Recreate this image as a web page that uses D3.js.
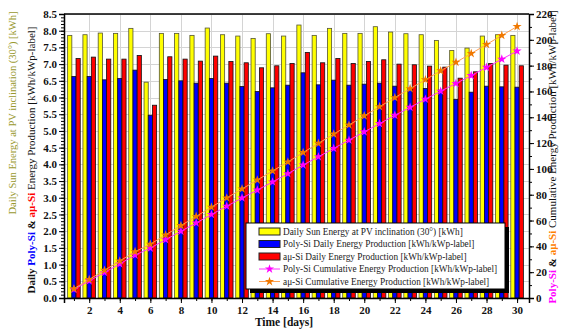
<!DOCTYPE html>
<html><head><meta charset="utf-8">
<script src="https://cdn.jsdelivr.net/npm/d3@7"></script>
<style>
html,body{margin:0;padding:0;background:#fff;}
svg{display:block;}
svg text{font-family:'Liberation Serif','Times New Roman','DejaVu Serif',serif !important;}
</style>
</head><body>
<script>
const days = d3.range(1, 31);
const sunEnergy = [7.86,7.88,7.93,7.92,8.07,6.46,7.92,7.92,7.86,8.08,7.88,7.84,7.77,7.91,7.84,8.17,7.86,8.07,7.92,7.92,8.12,7.96,7.91,7.88,7.71,7.41,7.48,7.84,7.88,7.86];
const polyDaily = [6.63,6.63,6.53,6.57,6.82,5.47,6.54,6.50,6.43,6.57,6.43,6.33,6.18,6.29,6.37,6.74,6.38,6.52,6.37,6.40,6.43,6.34,6.27,6.27,6.22,5.94,6.16,6.34,6.32,6.31];
const auDaily = [7.17,7.21,7.15,7.15,7.26,5.77,7.22,7.15,7.09,7.24,7.08,7.04,6.89,6.95,7.02,7.35,7.04,7.17,7.02,7.08,7.13,7.00,6.98,6.94,6.91,6.58,6.77,7.02,6.97,6.95];
const polyCum = [6.6,13.3,19.8,26.4,33.2,38.7,45.2,51.7,58.1,64.7,71.1,77.5,83.6,89.9,96.3,103.0,109.4,115.9,122.3,128.7,135.1,141.5,147.7,154.0,160.2,166.2,172.3,178.7,185.0,191.3];
const auCum = [7.2,14.4,21.5,28.7,35.9,41.7,48.9,56.1,63.2,70.4,77.5,84.5,91.4,98.4,105.4,112.7,119.8,127.0,134.0,141.1,148.2,155.2,162.2,169.1,176.0,182.6,189.4,196.4,203.4,210.3];
const xTicks = [2,4,6,8,10,12,14,16,18,20,22,24,26,28,30];
const leftTicks = d3.range(0, 8.51, 0.5);
const rightTicks = d3.range(0, 221, 20);
const legendLabels = [
  "Daily Sun Energy at PV inclination (30\u00B0) [kWh]",
  "Poly-Si Daily Energy Production [kWh/kWp-label]",
  "a\u03BC-Si Daily Energy Production [kWh/kWp-label]",
  "Poly-Si Cumulative Energy Production [kWh/kWp-label]",
  "a\u03BC-Si Cumulative Energy Production [kWh/kWp-label]"
];

const FONT = "'Liberation Serif','Times New Roman','DejaVu Serif',serif";
const W = 563, H = 329;
const L = 64, R = 529, T = 14, B = 298;
const svg = d3.select("body").append("svg").attr("width", W).attr("height", H)
  .style("font-family", FONT);

const x = d3.scaleLinear().domain([0.35, 30.78]).range([L, R]);
const yL = d3.scaleLinear().domain([0, 8.5]).range([B, T]);
const yR = d3.scaleLinear().domain([0, 220]).range([B, T]);

// grid
const grid = svg.append("g").attr("stroke", "#d4d4d4").attr("stroke-width", 1);
leftTicks.forEach(v => grid.append("line").attr("x1", L).attr("x2", R).attr("y1", Math.round(yL(v))+0.5).attr("y2", Math.round(yL(v))+0.5));
xTicks.forEach(v => grid.append("line").attr("y1", T).attr("y2", B).attr("x1", Math.round(x(v))+0.5).attr("x2", Math.round(x(v))+0.5));

// bars
const bw = 4.2;
const series = [
  {vals: sunEnergy, fill: "#ffff00", stroke: "#555533", off: -1.5},
  {vals: polyDaily, fill: "#0000ff", stroke: "#111111", off: -0.5},
  {vals: auDaily, fill: "#ff0000", stroke: "#111111", off: 0.5}
];
series.forEach(s => {
  svg.append("g").selectAll("rect").data(days).join("rect")
    .attr("x", d => x(d) + s.off * bw)
    .attr("y", (d, i) => yL(s.vals[i]))
    .attr("width", bw)
    .attr("height", (d, i) => B - yL(s.vals[i]))
    .attr("fill", s.fill).attr("stroke", s.stroke).attr("stroke-width", 0.8);
});

// cumulative lines
const star = d3.symbol().type(d3.symbolStar).size(26);
function cumLine(vals, lineCol, markCol) {
  const line = d3.line().x((d, i) => x(days[i])).y(d => yR(d));
  svg.append("path").datum(vals).attr("d", line).attr("fill", "none").attr("stroke", lineCol).attr("stroke-width", 1);
  svg.append("g").selectAll("path").data(vals).join("path")
    .attr("d", star).attr("transform", (d, i) => `translate(${x(days[i])},${yR(d)})`)
    .attr("fill", markCol);
}
cumLine(polyCum, "#ff33ff", "#ff00ff");
cumLine(auCum, "#ffa050", "#f07800");

// axes
function styleAxis(g) {
  g.attr("font-family", null).attr("font-size", null);
  g.selectAll("text").style("font-family", FONT).attr("font-size", 11).attr("font-weight", "bold").attr("fill", "#111");
  g.select(".domain").attr("stroke-width", 1.5);
}
const axL = d3.axisLeft(yL).tickValues(leftTicks).tickFormat(d3.format(".1f")).tickSize(5).tickPadding(2);
const gL = svg.append("g").attr("transform", `translate(${L},0)`).call(axL);
const axLm = d3.axisLeft(yL).tickValues(d3.range(0, 8.51, 0.1)).tickFormat("").tickSize(3);
svg.append("g").attr("transform", `translate(${L},0)`).call(axLm).select(".domain").remove();
const axR = d3.axisRight(yR).tickValues(rightTicks).tickFormat(d3.format("d")).tickSize(5).tickPadding(2);
const gR = svg.append("g").attr("transform", `translate(${R},0)`).call(axR);
const axRm = d3.axisRight(yR).tickValues(d3.range(0, 221, 10)).tickFormat("").tickSize(3);
svg.append("g").attr("transform", `translate(${R},0)`).call(axRm).select(".domain").remove();
const axB = d3.axisBottom(x).tickValues(xTicks).tickFormat(d3.format("d")).tickSize(5).tickPadding(3);
const gB = svg.append("g").attr("transform", `translate(0,${B})`).call(axB);
const axBm = d3.axisBottom(x).tickValues(days).tickFormat("").tickSize(3);
svg.append("g").attr("transform", `translate(0,${B})`).call(axBm).select(".domain").remove();
svg.append("line").attr("x1", L).attr("x2", R).attr("y1", T).attr("y2", T).attr("stroke", "#000").attr("stroke-width", 1.5);
[gL, gR, gB].forEach(styleAxis);

// axis titles
svg.append("text").attr("x", 284).attr("y", 326).attr("text-anchor", "middle").style("font-family", FONT)
  .attr("font-size", 11.5).attr("font-weight", "bold").attr("fill", "#111").text("Time [days]");

svg.append("text").attr("transform", "translate(16,113) rotate(-90)").attr("text-anchor", "middle").style("font-family", FONT)
  .attr("font-size", 10.5).attr("fill", "#99992e").text("Daily Sun Energy at PV inclination (30\u00B0) [kWh]");

const t2 = svg.append("text").attr("transform", "translate(35,160) rotate(-90)").attr("text-anchor", "middle").style("font-family", FONT)
  .attr("font-size", 11).attr("fill", "#111");
t2.append("tspan").attr("font-weight", "bold").text("Daily ");
t2.append("tspan").attr("font-weight", "bold").attr("fill", "#0000ff").text("Poly-Si");
t2.append("tspan").attr("font-weight", "bold").text(" & ");
t2.append("tspan").attr("font-weight", "bold").attr("fill", "#ff0000").text("a\u03BC-Si");
t2.append("tspan").text(" Energy Production [kWh/kWp-label]");

const t3 = svg.append("text").attr("transform", "translate(556,157) rotate(-90)").attr("text-anchor", "middle").style("font-family", FONT)
  .attr("font-size", 11).attr("fill", "#111");
t3.append("tspan").attr("font-weight", "bold").attr("fill", "#ff00ff").text("Poly-Si");
t3.append("tspan").attr("font-weight", "bold").text(" & ");
t3.append("tspan").attr("font-weight", "bold").attr("fill", "#ff8000").text("a\u03BC-Si");
t3.append("tspan").text(" Cumulative Energy Production [kWh/kWp-label]");

// legend
const lx = 246, ly = 223, lw = 259, lh = 66;
svg.append("rect").attr("x", lx + 4).attr("y", ly + 4).attr("width", lw).attr("height", lh).attr("fill", "#000");
svg.append("rect").attr("x", lx).attr("y", ly).attr("width", lw).attr("height", lh).attr("fill", "#fff").attr("stroke", "#000").attr("stroke-width", 1);
const lg = svg.append("g");
legendLabels.forEach((lab, i) => {
  const cy = ly + 8.5 + i * 12.5;
  if (i < 3) {
    lg.append("rect").attr("x", lx + 13).attr("y", cy - 3.5).attr("width", 21).attr("height", 7)
      .attr("fill", series[i].fill).attr("stroke", "#222").attr("stroke-width", 1);
  } else {
    const lc = i === 3 ? "#ff33ff" : "#ffa050";
    const mc = i === 3 ? "#ff00ff" : "#f07800";
    lg.append("line").attr("x1", lx + 13).attr("x2", lx + 34).attr("y1", cy).attr("y2", cy).attr("stroke", lc).attr("stroke-width", 1);
    lg.append("path").attr("d", star).attr("transform", `translate(${lx + 23.5},${cy})`).attr("fill", mc);
  }
  lg.append("text").attr("x", lx + 37).attr("y", cy + 3.3).style("font-family", FONT).attr("font-size", 9.3).attr("fill", "#222").text(lab);
});
</script>
</body></html>
